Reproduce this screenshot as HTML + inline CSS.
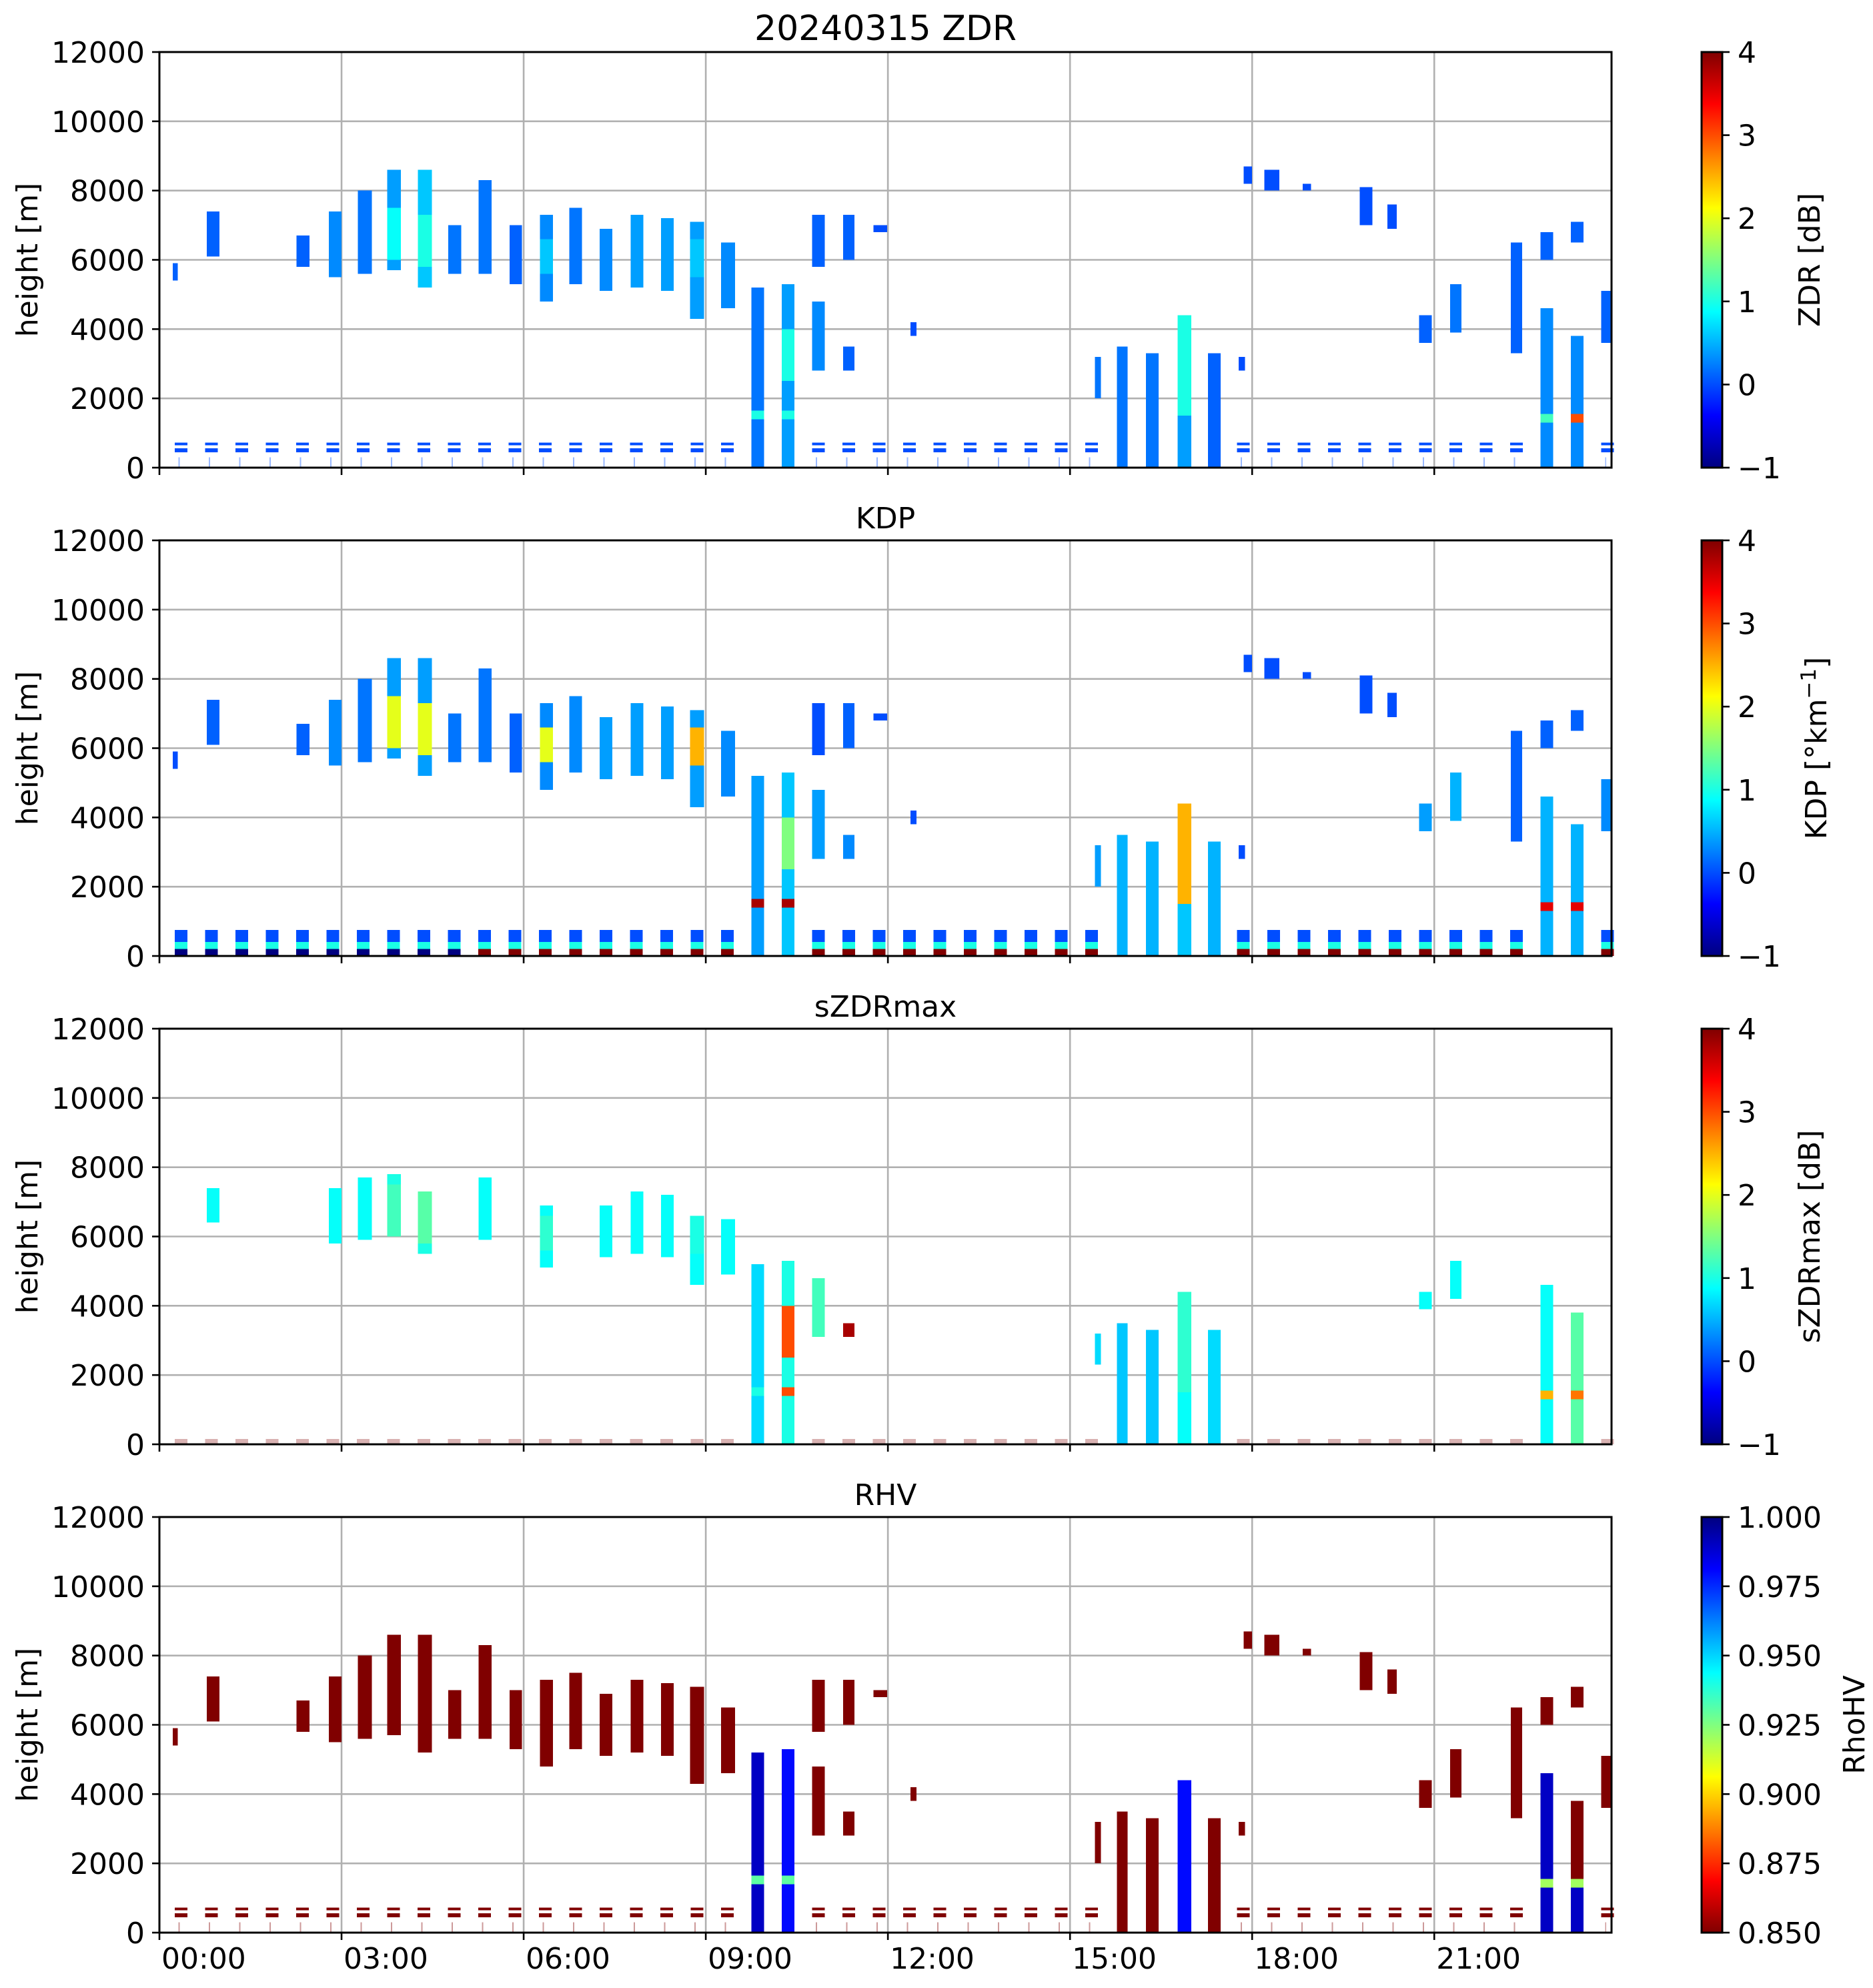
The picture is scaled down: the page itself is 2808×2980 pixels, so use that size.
<!DOCTYPE html>
<html><head><meta charset="utf-8"><style>
html,body{margin:0;padding:0;background:#fff;}
svg{display:block;font-family:"DejaVu Sans","Liberation Sans",sans-serif;}
</style></head>
<body>
<svg id="fig" width="2808" height="2980" viewBox="0 0 2808 2980" xmlns="http://www.w3.org/2000/svg"></svg>
<script>
// ---- data: echo regions (hours, metres) ----
const echoStart = [0.22,0.78,2.26,2.79,3.27,3.75,4.26,4.76,5.26,5.77,6.27,6.75,7.25,7.76,8.26,8.74,9.25,9.75,10.25,10.75,10.75,11.26,11.26,11.76,12.37,15.41,15.77,16.25,16.77,17.27,17.78,17.86,18.2,18.83,19.77,20.23,20.75,21.26,22.26,22.75,22.75,23.25,23.25,23.75];
const echoEnd   = [0.30,0.99,2.47,3.00,3.50,3.98,4.49,4.97,5.47,5.97,6.48,6.96,7.46,7.97,8.47,8.97,9.48,9.96,10.46,10.96,10.96,11.45,11.45,11.99,12.47,15.51,15.95,16.46,17.00,17.48,17.88,18.00,18.45,18.97,19.98,20.38,20.96,21.45,22.45,22.96,22.96,23.46,23.46,23.92];
const echoBottom= [5400,6100,5800,5500,5600,5700,5200,5600,5600,5300,4800,5300,5100,5200,5100,4300,4600,0,0,2800,5800,2800,6000,6800,3800,2000,0,0,0,0,2800,8200,8000,8000,7000,6900,3600,3900,3300,0,6000,0,6500,3600];
const echoTop   = [5900,7400,6700,7400,8000,8600,8600,7000,8300,7000,7300,7500,6900,7300,7200,7100,6500,5200,5300,4800,7300,3500,7300,7000,4200,3200,3500,3300,4400,3300,3200,8700,8600,8200,8100,7600,4400,5300,6500,4600,6800,3800,7100,5100];
const zdrVal    = [0.1,0.1,0.1,0.3,0.2,0.4,0.6,0.2,0.2,0.1,0.3,0.2,0.3,0.4,0.4,0.4,0.3,0.2,0.4,0.3,0.1,0.1,0.1,0,0,0.2,0.2,0.2,0.4,0.1,0,0,0,0,0,0,0.1,0.2,0.1,0.3,0.1,0.3,0.1,0.1];
const kdpVal    = [0,0.1,0.1,0.3,0.2,0.4,0.4,0.2,0.2,0.1,0.3,0.3,0.4,0.4,0.4,0.4,0.3,0.4,0.6,0.4,0,0.3,0.1,0,0,0.4,0.5,0.5,0.6,0.5,0,0,0,0,0,0,0.4,0.5,0.1,0.5,0.1,0.5,0.1,0.3];
const szdrVal   = [null,0.9,null,0.9,0.9,1.0,1.0,null,0.9,null,0.9,null,0.9,0.9,0.9,0.9,0.9,0.7,1.0,1.2,null,3.8,null,null,null,0.7,0.6,0.6,0.9,0.7,null,null,null,null,null,null,0.9,0.9,null,0.9,null,1.3,null,null];
const rhvVal    = [0.85,0.85,0.85,0.85,0.85,0.85,0.85,0.85,0.85,0.85,0.85,0.85,0.85,0.85,0.85,0.85,0.85,0.99,0.98,0.85,0.85,0.85,0.85,0.85,0.85,0.85,0.85,0.85,0.98,0.85,0.85,0.85,0.85,0.85,0.85,0.85,0.85,0.85,0.85,0.99,0.85,0.85,0.85,0.85];
// inner cores / bright bands
const coreStart = [9.75,10.25,22.75,23.25,23.25,3.75,4.26,10.25,16.77,6.27,8.74];
const coreEnd   = [9.96,10.46,22.96,23.46,23.46,3.98,4.49,10.46,17.00,6.48,8.97];
const coreBottom= [1400,1400,1300,1300,0,6000,5800,2500,1500,5600,5500];
const coreTop   = [1650,1650,1550,1550,1300,7500,7300,4000,4400,6600,6600];
const zdrCore   = [1.0,1.0,1.2,3.0,null,0.9,1.0,1.0,1.0,0.6,0.6];
const kdpCore   = [3.8,3.8,3.5,3.5,null,2.0,2.0,1.5,2.5,2.0,2.5];
const szdrCore  = [1.0,3.0,2.5,2.8,null,1.2,1.3,3.0,1.1,1.1,1.0];
const rhvCore   = [0.93,0.93,0.92,0.92,0.99,null,null,null,null,null,null];
// low-level clutter every half hour
const clutterTimes = [0.25,0.75,1.25,1.75,2.25,2.75,3.25,3.75,4.25,4.75,5.25,5.75,6.25,6.75,7.25,7.75,8.25,8.75,9.25,10.75,11.25,11.75,12.25,12.75,13.25,13.75,14.25,14.75,15.25,17.75,18.25,18.75,19.25,19.75,20.25,20.75,21.25,21.75,22.25,23.75];
const clutterTopVal = [0,0,0.85,0.85];   // zdr, kdp, szdr, rhv (upper band)
const clutterLowVal = [0,4,4,0.85];   // lower part
// axes
const yTicks = [0,2000,4000,6000,8000,10000,12000];
const xTickHours = [0,3,6,9,12,15,18,21];
const xTickLabels = ["00:00","03:00","06:00","09:00","12:00","15:00","18:00","21:00"];
const panelTitles = ["20240315 ZDR","KDP","sZDRmax","RHV"];
const cbMin = [-1,-1,-1,0.85];
const cbMax = [4,4,4,1.0];
const cbTicksZ = [-1,0,1,2,3,4];
const cbTicksR = [0.850,0.875,0.900,0.925,0.950,0.975,1.000];

// ---- layout ----
const NS="http://www.w3.org/2000/svg";
const svg=document.getElementById('fig');
const L=239,R=2416,H=623,tops=[78,810,1542,2274],XMAX=23.92,YMAX=12000;
const CBX=2551,CBW=31;
function jet(t){t=Math.max(0,Math.min(1,t));const c=v=>Math.round(255*Math.max(0,Math.min(1,v)));
 return `rgb(${c(1.5-Math.abs(4*t-3))},${c(1.5-Math.abs(4*t-2))},${c(1.5-Math.abs(4*t-1))})`;}
function el(tag,attrs,parent){const e=document.createElementNS(NS,tag);for(const k in attrs)e.setAttribute(k,attrs[k]);(parent||svg).appendChild(e);return e;}
const xs=h=>L+h/XMAX*(R-L);

// gradient defs (jet0 = jet, jet1 = reversed jet)
const defs=el('defs',{});
[0,1].forEach(k=>{const g=el('linearGradient',{id:'jet'+k,x1:0,y1:1,x2:0,y2:0},defs);
 for(let i=0;i<=40;i++)el('stop',{offset:(i/40),'stop-color':jet(k?1-i/40:i/40)},g);});

const panelVals=[[zdrVal,zdrCore],[kdpVal,kdpCore],[szdrVal,szdrCore],[rhvVal,rhvCore]];
const cbLabels=["ZDR [dB]","KDP","sZDRmax [dB]","RhoHV"];
const cbLabelX=[2712,2722,2712,2779];

tops.forEach((T,p)=>{
 const ys=m=>T+H-m/YMAX*H;
 const col=v=>{const t=(v-cbMin[p])/(cbMax[p]-cbMin[p]);return jet(p===3?1-t:t);};
 const g=el('g',{});
 
 
 // grid
 yTicks.forEach(v=>{if(v>0&&v<YMAX)el('line',{x1:L,x2:R,y1:ys(v),y2:ys(v),stroke:'#b0b0b0','stroke-width':2.6},g);});
 xTickHours.forEach(h=>{if(h>0)el('line',{x1:xs(h),x2:xs(h),y1:T,y2:T+H,stroke:'#b0b0b0','stroke-width':2.6},g);});
 const data=el('g',{'shape-rendering':'crispEdges'},g);
 
 
 // clutter
 clutterTimes.forEach(t=>{
  const x0=xs(t),w=xs(t+0.21)-x0;
  if(p===1){
   el('rect',{x:x0,y:ys(750),width:w,height:ys(400)-ys(750),fill:col(clutterTopVal[p])},data);
   el('rect',{x:x0,y:ys(400),width:w,height:ys(200)-ys(400),fill:col(1.0)},data);
   if(t>5)el('rect',{x:x0,y:ys(200),width:w,height:ys(0)-ys(200),fill:col(clutterLowVal[p])},data);
   else el('rect',{x:x0,y:ys(200),width:w,height:ys(0)-ys(200),fill:col(-1)},data);
  } else if(p===2){
   el('rect',{x:x0,y:ys(150),width:w,height:ys(0)-ys(150),fill:col(clutterLowVal[p]),opacity:0.3},data);
  } else {
   el('rect',{x:x0,y:ys(720),width:w,height:4,fill:col(clutterTopVal[p])},data);
   el('rect',{x:x0,y:ys(560),width:w,height:6,fill:col(clutterTopVal[p])},data);
   el('rect',{x:x0+w*0.3,y:ys(300),width:w*0.1,height:ys(0)-ys(300),fill:col(clutterLowVal[p]),opacity:0.4},data);
  }
 });
 const [vals,cores]=panelVals[p];
 echoStart.forEach((s,i)=>{const v=vals[i];if(v===null)return;
  let b=echoBottom[i],t=echoTop[i];
  if(p===2&&b>0){b=b+300;t=Math.min(t,b+1800);}
  const r=el('rect',{x:xs(s),y:ys(t),width:xs(echoEnd[i])-xs(s),height:ys(b)-ys(t),fill:col(v)},data);
  
  
 });
 coreStart.forEach((s,i)=>{const v=cores[i];if(v===null)return;
  const r=el('rect',{x:xs(s),y:ys(coreTop[i]),width:xs(coreEnd[i])-xs(s),height:ys(coreBottom[i])-ys(coreTop[i]),fill:col(v)},data);
  
  
 });
 // frame
 el('rect',{x:L,y:T,width:R-L,height:H,fill:'none',stroke:'#000','stroke-width':3},g);
 // y ticks
 yTicks.forEach(v=>{el('line',{x1:L-11,x2:L,y1:ys(v),y2:ys(v),stroke:'#000','stroke-width':2.6},g);
  const tx=el('text',{x:217,y:ys(v)+16,'text-anchor':'end','font-size':44},g);tx.textContent=v;
  });
 // x ticks
 xTickHours.forEach((h,i)=>{el('line',{x1:xs(h),x2:xs(h),y1:T+H,y2:T+H+11,stroke:'#000','stroke-width':2.6},g);
  if(p===3){const tx=el('text',{x:xs(h)+3,y:2951,'font-size':44},g);tx.textContent=xTickLabels[i];
   }});
 // y label
 const yl=el('text',{x:0,y:0,'font-size':44,'text-anchor':'middle',transform:`translate(56,${T+H/2}) rotate(-90)`},g);
 yl.textContent='height [m]';
 // title
 const tt=el('text',{x:(L+R)/2,y:T-18,'font-size':p===0?52:44,'text-anchor':'middle'},g);
 tt.textContent=panelTitles[p];
 // colorbar
 const cb=el('g',{},g);
 el('rect',{x:CBX,y:T,width:CBW,height:H,fill:p===3?'url(#jet1)':'url(#jet0)',stroke:'#000','stroke-width':3},cb);
 const ticks=p===3?cbTicksR:cbTicksZ;
 ticks.forEach(v=>{const y=T+H-(v-cbMin[p])/(cbMax[p]-cbMin[p])*H;
  el('line',{x1:CBX+CBW,x2:CBX+CBW+11,y1:y,y2:y,stroke:'#000','stroke-width':2.6},cb);
  const tx=el('text',{x:2605,y:y+16,'font-size':44},cb);
  tx.textContent=p===3?v.toFixed(3):(v<0?'\u2212'+Math.abs(v):String(v));
  });
 const cl=el('text',{x:0,y:0,'font-size':44,'text-anchor':'middle',transform:`translate(${cbLabelX[p]+16},${T+H/2}) rotate(-90)`},cb);
 if(p===1){cl.textContent='KDP [°km';const s=el('tspan',{dy:-16,'font-size':31},cl);s.textContent='\u22121';const s2=el('tspan',{dy:16},cl);s2.textContent=']';}
 else cl.textContent=cbLabels[p];
 
});
</script>
</body></html>
